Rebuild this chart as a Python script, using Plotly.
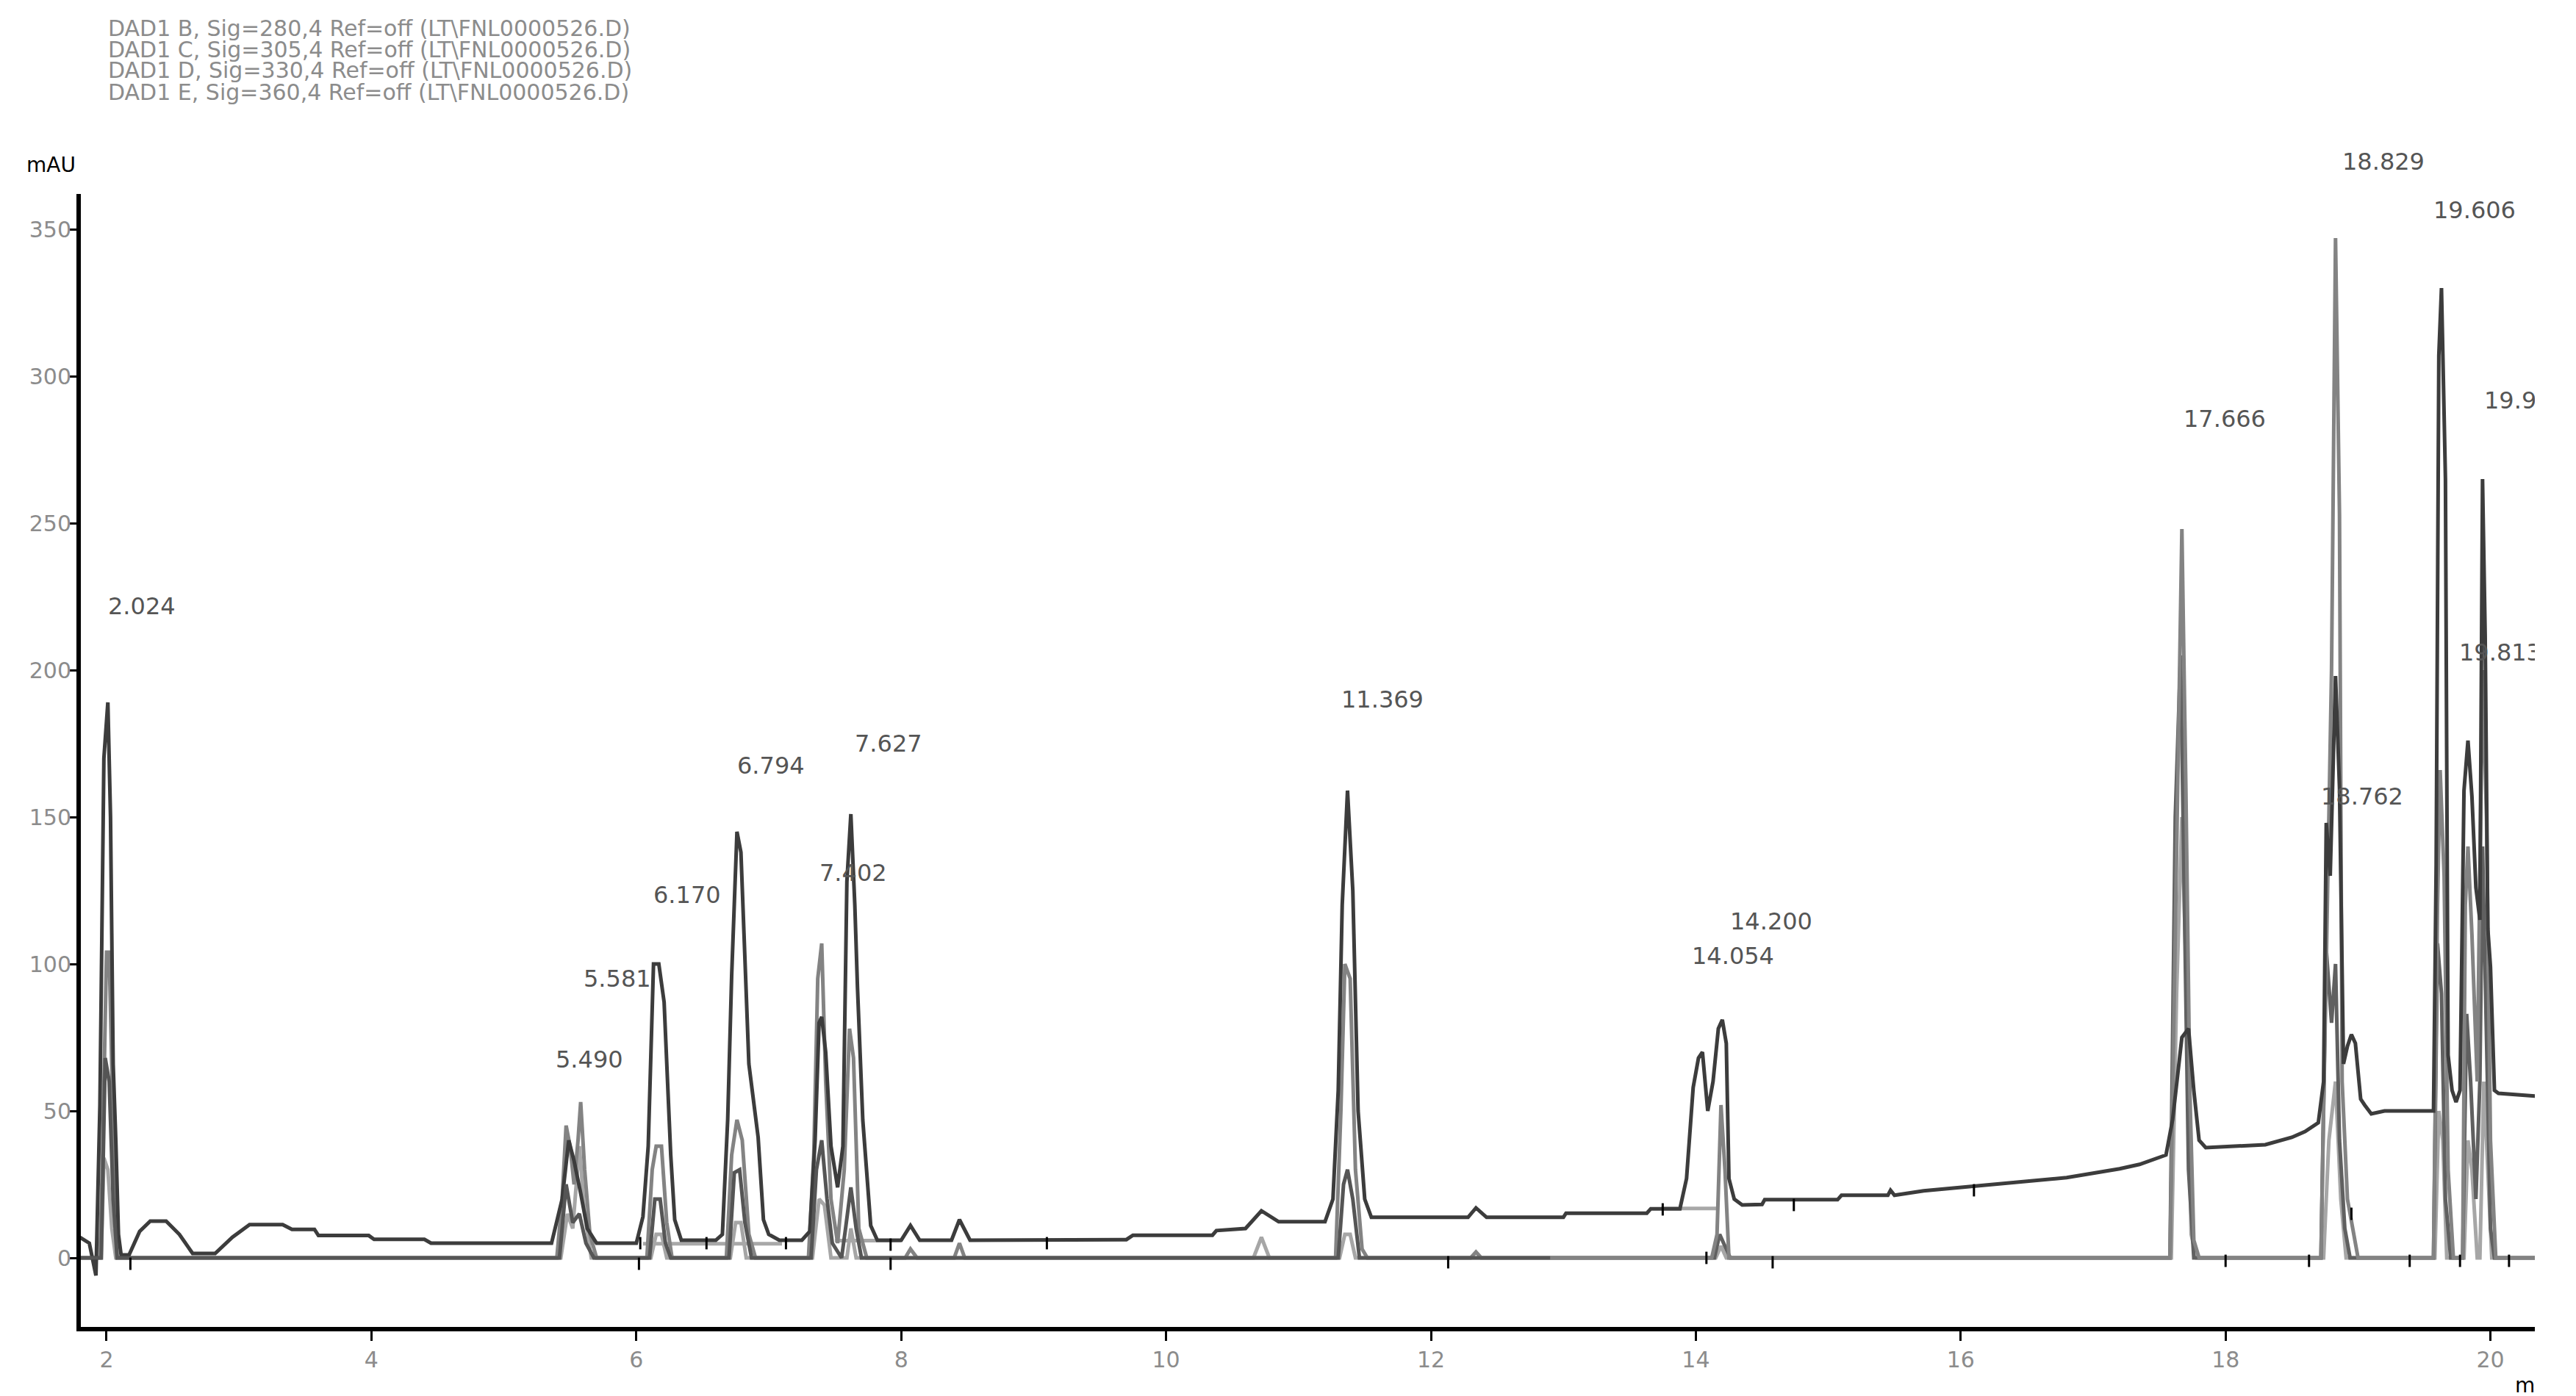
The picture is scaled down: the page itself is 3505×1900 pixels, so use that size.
import plotly.graph_objects as go

# ---------------- data ----------------
signal_names = [
    "DAD1 B, Sig=280,4 Ref=off (LT\\FNL0000526.D)",
    "DAD1 C, Sig=305,4 Ref=off (LT\\FNL0000526.D)",
    "DAD1 D, Sig=330,4 Ref=off (LT\\FNL0000526.D)",
    "DAD1 E, Sig=360,4 Ref=off (LT\\FNL0000526.D)",
]

b_time = [1.80, 1.87, 1.92, 1.95, 1.98, 2.01, 2.03, 2.05, 2.07, 2.09, 2.11, 2.17, 2.25, 2.33, 2.45, 2.55,
          2.65, 2.82, 2.95, 3.08, 3.33, 3.40, 3.57, 3.60, 3.98, 4.02, 4.40, 4.45, 5.36, 5.44, 5.49, 5.53,
          5.58, 5.63, 5.70, 6.00, 6.05, 6.09, 6.13, 6.17, 6.21, 6.26, 6.29, 6.34, 6.60, 6.65, 6.69, 6.72,
          6.76, 6.79, 6.85, 6.92, 6.96, 7.00, 7.08, 7.25, 7.31, 7.35, 7.38, 7.40, 7.43, 7.47, 7.52, 7.56,
          7.59, 7.62, 7.65, 7.67, 7.71, 7.74, 7.77, 7.82, 8.00, 8.07, 8.14, 8.38, 8.44, 8.52, 9.70, 9.75,
          10.35, 10.38, 10.60, 10.72, 10.85, 11.20, 11.26, 11.30, 11.33, 11.37, 11.41, 11.45, 11.50, 11.55,
          12.28, 12.34, 12.42, 13.00, 13.02, 13.63, 13.66, 13.88, 13.93, 13.98, 14.02, 14.05, 14.09, 14.13,
          14.17, 14.20, 14.23, 14.25, 14.29, 14.35, 14.50, 14.52, 15.07, 15.10, 15.45, 15.47, 15.50, 15.72,
          16.10, 16.45, 16.80, 17.00, 17.20, 17.35, 17.45, 17.55, 17.60, 17.64, 17.67, 17.72, 17.76, 17.80,
          17.85, 18.30, 18.50, 18.60, 18.70, 18.74, 18.76, 18.79, 18.83, 18.86, 18.89, 18.92, 18.95, 18.98,
          19.02, 19.05, 19.10, 19.20, 19.57, 19.59, 19.61, 19.63, 19.66, 19.68, 19.71, 19.74, 19.77, 19.80,
          19.83, 19.86, 19.89, 19.92, 19.94, 19.96, 19.98, 20.00, 20.03, 20.06, 20.35]
b_mau = [7, 5, -6, 52, 170, 189, 150, 66, 40, 8, 1, 1, 9, 12.5, 12.5, 8,
         1.5, 1.5, 7, 11.3, 11.3, 9.7, 9.7, 7.6, 7.6, 6.3, 6.3, 5, 5, 20, 40, 33,
         22, 10, 5, 5, 14, 38, 100, 100, 87, 35, 13, 6, 6, 8, 47, 96,
         145, 138, 66, 41, 13, 8, 6, 6, 9, 40, 80, 82, 70, 38, 24, 38,
         128, 151, 120, 92, 47, 29, 11, 6, 6, 11, 6, 6, 13, 6, 6.2, 7.7,
         7.7, 9.3, 10, 16, 12.3, 12.3, 20, 57, 120, 159, 125, 50, 20, 13.8,
         13.8, 17, 13.8, 13.8, 15.2, 15.2, 16.7, 16.7, 27, 58, 68, 70, 50, 60,
         78, 81, 73, 27, 20, 18, 18.2, 19.8, 19.8, 21.3, 21.3, 23, 21.3, 22.8,
         24.3, 25.8, 27.3, 28.8, 30.3, 31.8, 33.3, 35, 47, 62, 75, 78, 57, 40,
         37.5, 38.5, 41, 43, 46, 60, 148, 130, 198, 160, 66, 72, 76, 73,
         54, 52, 49, 50, 50, 134, 307, 330, 265, 69, 57, 53, 57, 159,
         176, 157, 126, 115, 265, 212, 112, 99, 57, 56, 55]

c_time = [1.80, 1.95, 1.97, 2.00, 2.02, 2.04, 2.06, 2.08, 5.40, 5.44, 5.47, 5.50, 5.53, 5.56, 5.58, 5.61,
          5.65, 5.70, 6.08, 6.12, 6.15, 6.19, 6.23, 6.27, 6.68, 6.72, 6.76, 6.80, 6.85, 6.90, 7.30, 7.34,
          7.37, 7.40, 7.43, 7.47, 7.52, 7.57, 7.61, 7.64, 7.68, 7.74, 8.03, 8.07, 8.12, 8.40, 8.44, 8.48,
          11.28, 11.32, 11.35, 11.39, 11.43, 11.48, 11.52, 12.30, 12.34, 12.38, 14.12, 14.16, 14.19, 14.22,
          14.25, 17.58, 17.62, 17.65, 17.67, 17.70, 17.73, 17.76, 17.80, 18.72, 18.76, 18.80, 18.83, 18.86,
          18.88, 18.92, 18.96, 19.00, 19.57, 19.60, 19.62, 19.65, 19.68, 19.72, 19.79, 19.81, 19.83, 19.86,
          19.90, 19.94, 19.97, 20.00, 20.04, 20.35]
c_mau = [0, 0, 35, 104, 104, 60, 25, 0, 0, 20, 45, 38, 25, 40, 53, 30,
         8, 0, 0, 30, 38, 38, 12, 0, 0, 35, 47, 40, 8, 0, 0, 35,
         95, 107, 60, 20, 5, 30, 78, 68, 10, 0, 0, 3, 0, 0, 5, 0,
         0, 50, 100, 95, 30, 3, 0, 0, 2, 0, 0, 8, 52, 30,
         0, 0, 112, 200, 248, 160, 57, 6, 0, 0, 100, 200, 347, 253,
         60, 20, 10, 0, 0, 120, 166, 130, 30, 0, 0, 120, 140, 110,
         60, 200, 150, 40, 0, 0]

d_time = [1.80, 1.96, 1.99, 2.02, 2.05, 2.08, 5.42, 5.47, 5.52, 5.57, 5.62, 5.68, 6.10, 6.14, 6.18, 6.22,
          6.26, 6.70, 6.74, 6.78, 6.82, 6.87, 7.32, 7.36, 7.40, 7.44, 7.48, 7.55, 7.58, 7.62, 7.66, 7.70,
          11.30, 11.34, 11.37, 11.41, 11.46, 12.90, 14.14, 14.18, 14.22, 14.26, 17.58, 17.62, 17.66, 17.69,
          17.72, 17.76, 18.72, 18.76, 18.80, 18.83, 18.86, 18.90, 18.94, 19.57, 19.60, 19.63, 19.66, 19.70,
          19.79, 19.82, 19.85, 19.89, 19.92, 19.94, 19.97, 20.00, 20.03, 20.35]
d_mau = [0, 0, 68, 60, 20, 0, 0, 25, 12, 15, 5, 0, 0, 20, 20, 5,
         0, 0, 29, 30, 12, 0, 0, 30, 40, 20, 5, 0, 10, 24, 10, 0,
         0, 25, 30, 20, 0, 0, 0, 8, 4, 0, 0, 150, 205, 120,
         30, 0, 0, 105, 80, 100, 40, 10, 0, 0, 107, 90, 20, 0,
         0, 83, 60, 20, 60, 140, 80, 10, 0, 0]

e_time = [1.80, 1.96, 1.98, 2.01, 2.04, 2.07, 5.43, 5.48, 5.52, 5.57, 5.61, 5.66, 6.11, 6.15, 6.19, 6.23,
          6.71, 6.75, 6.79, 6.83, 7.33, 7.38, 7.42, 7.47, 7.59, 7.62, 7.66, 10.66, 10.72, 10.78, 11.31, 11.35,
          11.39, 11.43, 14.15, 14.19, 14.23, 17.59, 17.63, 17.67, 17.70, 17.74, 17.78, 18.74, 18.78, 18.83,
          18.87, 18.91, 19.58, 19.61, 19.64, 19.67, 19.80, 19.83, 19.86, 19.90, 19.92, 19.95, 19.98, 20.01,
          20.35]
e_mau = [0, 0, 34, 30, 10, 0, 0, 15, 10, 38, 15, 0, 0, 8, 8, 0,
         0, 12, 12, 0, 0, 20, 18, 0, 0, 10, 0, 0, 7, 0, 0, 8,
         8, 0, 0, 4, 0, 0, 90, 150, 100, 8, 0, 0, 40, 60,
         20, 0, 0, 50, 40, 0, 0, 40, 30, 0, 0, 60, 30, 0,
         0]

# integration baselines and peak start/end markers
base_time = [6.05, 7.10, None, 7.50, 8.00, None, 13.74, 14.16]
base_mau = [4.8, 4.8, None, 5.9, 5.9, None, 16.8, 16.8]
mark_time = [2.18, 6.02, 6.03, 6.53, 7.13, 7.92, 7.92, 9.10, 12.13, 13.75, 14.08, 14.58, 14.74,
             16.10, 18.00, 18.63, 18.95, 19.39, 19.77, 20.14]
mark_mau = [-2, -2, 5, 5, 5, 4.5, -2, 5, -1.5, 16.5, 0, -1.5, 18, 23, -1, -1, 15, -1, -1, -1]

peak_labels = ["2.024", "5.490", "5.581", "6.170", "6.794", "7.402", "7.627", "11.369", "14.054",
               "14.200", "17.666", "18.762", "18.829", "19.606", "19.945", "19.813"]
label_time = [2.00, 5.38, 5.59, 6.12, 6.75, 7.37, 7.64, 11.31, 13.96, 14.25, 17.67, 18.71, 18.87,
              19.56, 19.94, 19.75]
label_mau = [221.8, 67.5, 95, 123.5, 167.5, 131, 175, 190, 102.8, 114.5, 285.5, 157, 373, 356.5,
             291.7, 206]

x_ticks = [2, 4, 6, 8, 10, 12, 14, 16, 18, 20]
y_ticks = [0, 50, 100, 150, 200, 250, 300, 350]

X_RANGE = [1.806, 20.335]
Y_RANGE = [-23.5, 362]

# ---------------- figure ----------------
W, H = 3449, 1900
ML, MR, MT, MB = 110, 0, 264, 94
FONT = "DejaVu Sans"

def ypaper(v):
    return (v - Y_RANGE[0]) / (Y_RANGE[1] - Y_RANGE[0])

fig = go.Figure()

split = next(i for i, t in enumerate(d_time) if t >= 12.9)

def line(x, y, color, width=5, name=None):
    return go.Scatter(x=x, y=y, mode="lines", line=dict(color=color, width=width),
                      showlegend=False, hoverinfo="skip", name=name)

fig.add_trace(line(e_time, e_mau, "#a6a6a6", name="E"))
fig.add_trace(line(d_time[split:], d_mau[split:], "#606060", name="D"))
fig.add_trace(line(base_time, base_mau, "#a8a8a8", name="baseline"))
fig.add_trace(line(c_time, c_mau, "#838383", name="C"))
fig.add_trace(line(b_time, b_mau, "#3c3c3c", name="B"))
fig.add_trace(line(d_time[:split + 1], d_mau[:split + 1], "#555555", name="D"))
fig.add_trace(go.Scatter(x=mark_time, y=mark_mau, mode="markers", showlegend=False, hoverinfo="skip",
                         marker=dict(symbol="line-ns", size=12, line=dict(color="black", width=3))))

ann = []
for txt, t, v in zip(peak_labels, label_time, label_mau):
    ann.append(dict(x=t, y=ypaper(v), xref="x", yref="paper", text=txt, showarrow=False,
                    xanchor="left", yanchor="middle", font=dict(family=FONT, size=32, color="#555555")))

plot_w = W - ML - MR
plot_h = H - MT - MB
for i, name in enumerate(signal_names):
    ypx = 38 + 29 * i
    ann.append(dict(x=(145 - ML) / plot_w, y=(H - MB - ypx) / plot_h, xref="paper", yref="paper",
                    text=name, showarrow=False, xanchor="left", yanchor="middle",
                    font=dict(family=FONT, size=30, color="#8c8c8c")))
ann.append(dict(x=(34 - ML) / plot_w, y=(H - MB - 224) / plot_h, xref="paper", yref="paper",
                text="mAU", showarrow=False, xanchor="left", yanchor="middle",
                font=dict(family=FONT, size=28, color="black")))
ann.append(dict(x=(3420 - ML) / plot_w, y=(H - MB - 1885) / plot_h, xref="paper", yref="paper",
                text="min", showarrow=False, xanchor="left", yanchor="middle",
                font=dict(family=FONT, size=28, color="black")))

fig.update_layout(
    width=W, height=H,
    margin=dict(l=ML, r=MR, t=MT, b=MB, pad=0),
    paper_bgcolor="white", plot_bgcolor="white",
    showlegend=False,
    annotations=ann,
    xaxis=dict(range=X_RANGE, tickvals=x_ticks, ticktext=[str(v) for v in x_ticks],
               showline=True, linewidth=6, linecolor="black", mirror=False,
               ticks="outside", ticklen=13, tickwidth=3, tickcolor="black",
               showgrid=False, zeroline=False,
               tickfont=dict(family=FONT, size=30, color="#8c8c8c")),
    yaxis=dict(range=Y_RANGE, tickvals=y_ticks, ticktext=[str(v) for v in y_ticks],
               showline=True, linewidth=6, linecolor="black", mirror=False,
               ticks="outside", ticklen=9, tickwidth=3, tickcolor="black",
               showgrid=False, zeroline=False, ticklabelstandoff=-8,
               tickfont=dict(family=FONT, size=30, color="#8c8c8c")),
)

fig.write_html("out.html", config={"displayModeBar": False},
               post_script="document.body.style.margin='0';")
